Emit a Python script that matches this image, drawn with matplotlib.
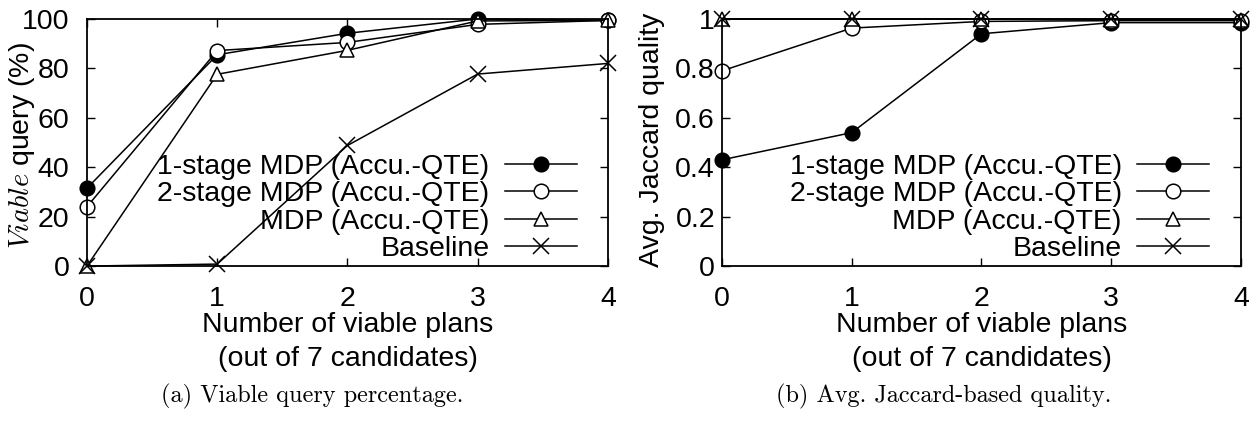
import matplotlib
matplotlib.use('Agg')
from matplotlib import pyplot as plt

plt.rcParams['font.family'] = ['Liberation Sans', 'DejaVu Sans']
plt.rcParams['mathtext.fontset'] = 'cm'

plans = [0, 1, 2, 3, 4]
labels = ['1-stage MDP (Accu.-QTE)', '2-stage MDP (Accu.-QTE)',
          'MDP (Accu.-QTE)', 'Baseline']

# viable query percentage
viable_1stage = [31.5, 85.5, 94.2, 100, 99.4]
viable_2stage = [24.0, 87.2, 90.5, 97.8, 99.4]
viable_mdp = [0, 77.6, 87.3, 99.2, 99.4]
viable_base = [0, 0.8, 48.8, 77.7, 82.0]

# avg. jaccard quality
jac_1stage = [0.43, 0.54, 0.94, 0.985, 0.985]
jac_2stage = [0.79, 0.963, 0.99, 0.993, 0.993]
jac_mdp = [1.0, 1.0, 1.0, 0.996, 0.996]
jac_base = [1.0, 1.0, 1.0, 1.0, 1.0]

yticks_a = [0, 20, 40, 60, 80, 100]
yticks_b = [0, 0.2, 0.4, 0.6, 0.8, 1]
ytick_labels_b = ['0', '0.2', '0.4', '0.6', '0.8', '1']

FS = 20.5
styles = [dict(marker='o', mfc='black', mec='black'),
          dict(marker='o', mfc='white', mec='black'),
          dict(marker='^', mfc='white', mec='black'),
          dict(marker='x', mfc='black', mec='black')]
msizes = [10.5, 10.5, 10, 11]


def draw(ax, series, yticks, ylim, ytl=None, ypad=13, leg_x=0.95):
    for ys, st, ms, lab in zip(series, styles, msizes, labels):
        ax.plot(plans, ys, color='black', lw=1.1, ms=ms, mew=1.1,
                clip_on=False, label=lab, **st)
    ax.set_xlim(0, 4)
    ax.set_ylim(*ylim)
    ax.set_xticks(plans)
    ax.set_yticks(yticks)
    if ytl:
        ax.set_yticklabels(ytl)
    ax.tick_params(direction='in', length=6, width=1, labelsize=FS,
                   top=True, right=True)
    ax.tick_params(axis='x', pad=14)
    ax.tick_params(axis='y', pad=ypad)
    for sp in ax.spines.values():
        sp.set_linewidth(1.3)
    ax.set_xlabel('Number of viable plans\n(out of 7 candidates)',
                  fontsize=FS, labelpad=0, linespacing=1.4)
    ax.legend(loc='lower right', bbox_to_anchor=(leg_x, -0.008),
              frameon=False, markerfirst=False, fontsize=FS,
              handlelength=2.53, handletextpad=0.53, labelspacing=0.055,
              borderpad=0.2, borderaxespad=0)


fig = plt.figure(figsize=(12.53, 4.21), dpi=100)
ax1 = fig.add_axes([0.0694, 0.368, 0.4158, 0.587])
ax2 = fig.add_axes([0.5762, 0.368, 0.4142, 0.587])

draw(ax1, [viable_1stage, viable_2stage, viable_mdp, viable_base],
     yticks_a, (0, 100), ypad=12.5, leg_x=0.951)
ax1.set_ylabel(r'$\mathit{Viable}$ query (%)', fontsize=FS)
ax1.yaxis.label.set_va('center')
ax1.yaxis.set_label_coords(-0.125, 0.49)

draw(ax2, [jac_1stage, jac_2stage, jac_mdp, jac_base],
     yticks_b, (0, 1), ytick_labels_b, ypad=5, leg_x=0.949)
ax2.set_ylabel('Avg. Jaccard quality', fontsize=FS)
ax2.yaxis.label.set_va('center')
ax2.yaxis.set_label_coords(-0.135, 0.51)

fig.text(0.249, 0.045, '(a) Viable query percentage.', family='cmr10',
         fontsize=17.5, ha='center')
fig.text(0.753, 0.045, '(b) Avg. Jaccard-based quality.', family='cmr10',
         fontsize=17.5, ha='center')

fig.savefig('out.png', dpi=100)
